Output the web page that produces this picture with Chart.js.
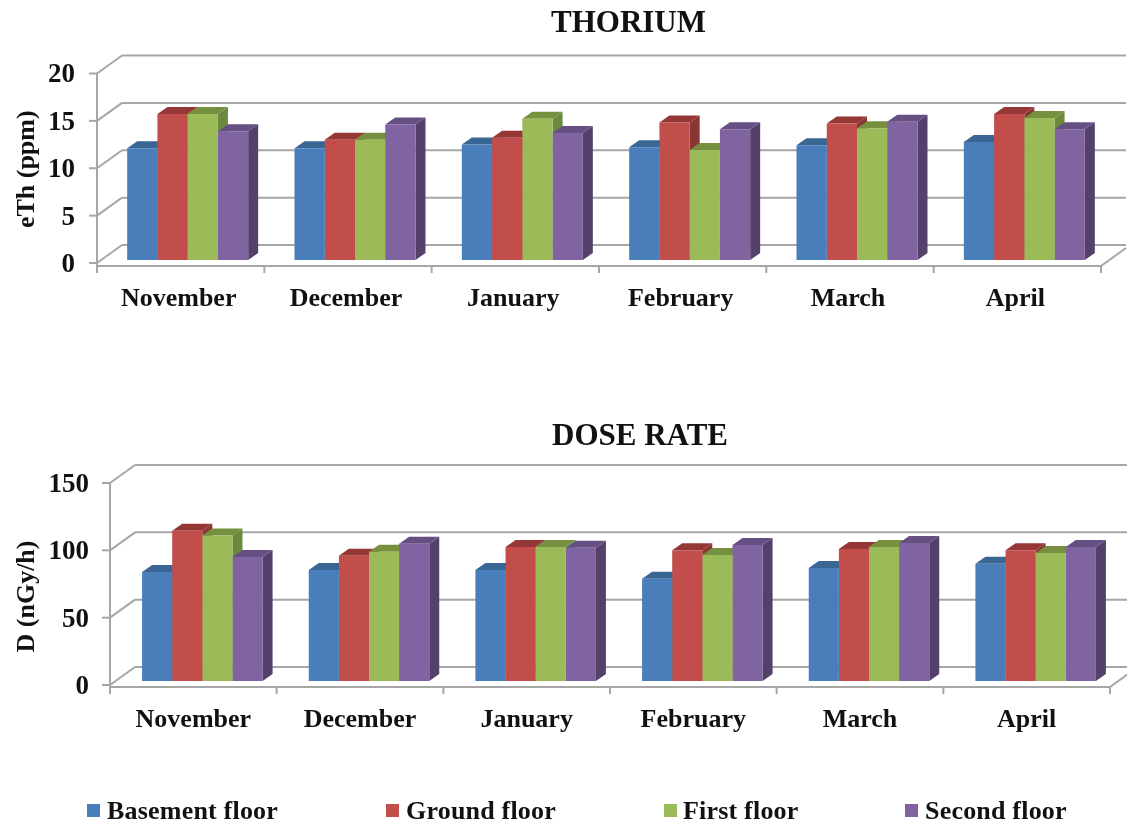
<!DOCTYPE html>
<html><head><meta charset="utf-8">
<script src="https://cdn.jsdelivr.net/npm/chart.js@4"></script>
<style>
html,body{margin:0;padding:0;background:#fff;width:1127px;height:827px;overflow:hidden}
canvas{position:absolute;left:0;filter:blur(.4px)}
.lg{position:absolute;top:797px;font:bold 26px "Liberation Serif";letter-spacing:.2px;color:#111;line-height:28px;white-space:nowrap;filter:blur(.4px)}
.sw{position:absolute;top:804px;width:13px;height:13px}
</style></head><body>
<canvas id="c1" width="1127" height="400" style="top:0"></canvas>
<canvas id="c2" width="1127" height="427" style="top:400px"></canvas>
<script>
const months=["November","December","January","February","March","April"];
const seriesNames=["Basement floor","Ground floor","First floor","Second floor"];
const thBasement=[11.8,11.8,12.2,11.9,12.1,12.45];
const thGround=[15.4,12.7,12.9,14.5,14.4,15.4];
const thFirst=[15.4,12.7,14.9,11.6,13.9,15.0];
const thSecond=[13.6,14.3,13.4,13.8,14.6,13.8];
const drBasement=[81,82.5,82.5,76,84,87];
const drGround=[111.5,93,99.5,97,98,97];
const drFirst=[108,96,99.5,93.5,99.5,95];
const drSecond=[92,102,99,101,102.5,99.5];
const thTicks=[0,5,10,15,20];
const drTicks=[0,50,100,150];
const frontColors=["#4a7ebb","#c24e4c","#9bbb59","#8064a2"];
const topColors=["#3a6694","#953735","#769040","#654f83"];
const sideColors=["#37608c","#8a3634","#6c8a3e","#54406b"];
const GRID="#a6a6a6", FONT="'Liberation Serif'", INK="#111";
const DX=10, DY=7, BACKX=25, BACKY=18;

const walls={id:"walls",
 beforeDatasetsDraw(chart,a,o){
  const ctx=chart.ctx,y=chart.scales.y,area=chart.chartArea;
  const fx=area.left-o.fx, fr=area.right-o.fx, fy=o.fy;
  const ticks=y.ticks.map(t=>y.getPixelForValue(t.value)+fy);
  const floor=area.bottom+6;
  ctx.save();ctx.strokeStyle=GRID;ctx.lineWidth=2;
  const seg=(x1,y1,x2,y2)=>{ctx.beginPath();ctx.moveTo(x1,y1);ctx.lineTo(x2,y2);ctx.stroke();};
  ticks.forEach(p=>{
   seg(fx+BACKX,p-BACKY,fr+BACKX,p-BACKY);
   seg(fx,p,fx+BACKX,p-BACKY);
   seg(fx-8,p,fx,p);
  });
  seg(fx,ticks[ticks.length-1],fx,floor+7);
  seg(fx,floor,fr,floor);
  seg(fr,floor,fr+BACKX,floor-18);
  const n=months.length, step=(fr-fx)/n;
  for(let k=1;k<=n;k++) seg(fx+k*step,floor,fx+k*step,floor+7);
  // depth faces of the bars, left to right; the library then paints the fronts over them
  chart.data.labels.forEach((_,c)=>{
   chart.data.datasets.forEach((_,i)=>{
    const b=chart.getDatasetMeta(i).data[c];
    const l=b.x-b.width/2,r=b.x+b.width/2,t=b.y,bt=b.base;
    ctx.fillStyle=sideColors[i];
    ctx.beginPath();ctx.moveTo(r,t);ctx.lineTo(r+DX,t-DY);ctx.lineTo(r+DX,bt-DY);ctx.lineTo(r,bt);ctx.closePath();ctx.fill();
    ctx.fillStyle=topColors[i];
    ctx.beginPath();ctx.moveTo(l,t);ctx.lineTo(l+DX,t-DY);ctx.lineTo(r+DX,t-DY);ctx.lineTo(r,t);ctx.closePath();ctx.fill();
   });
  });
  ctx.restore();
 }};
const placeTitle={id:"placeTitle",
 afterLayout(chart,a,o){ if(chart.titleBlock) chart.titleBlock.left=2*o.center-chart.titleBlock.right; }};

function make(id,title,yTitle,ticks,max,data,cfg){
 new Chart(document.getElementById(id),{
  type:"bar",
  data:{labels:months,datasets:data.map((d,i)=>({label:seriesNames[i],data:d,backgroundColor:frontColors[i],categoryPercentage:0.723,barPercentage:1,borderWidth:0}))},
  plugins:[walls,placeTitle],
  options:{responsive:false,animation:false,devicePixelRatio:1,
   layout:{padding:{left:0,top:0,bottom:0,right:cfg.padRight}},
   plugins:{
    legend:{display:false},tooltip:{enabled:false},
    title:{display:true,text:title,color:INK,font:{family:FONT,size:31,weight:"bold",lineHeight:1.2},padding:{top:cfg.titleTop,bottom:cfg.titleBottom}},
    walls:{fx:cfg.fx,fy:cfg.fy},placeTitle:{center:cfg.center}
   },
   scales:{
    x:{grid:{display:false},border:{display:false},
       afterFit(s){s.height=cfg.xHeight;},
       ticks:{autoSkip:false,maxRotation:0,minRotation:0,padding:16,labelOffset:cfg.xOff,color:INK,font:{family:FONT,size:26,weight:"bold"}}},
    y:{min:0,max:max,grid:{display:false},border:{display:false},
       afterBuildTicks(s){s.ticks=ticks.map(v=>({value:v}));},
       afterFit(s){
        s.width=cfg.left;
        if(!s._shifted){s._shifted=true;const orig=s.drawTitle;
         s.drawTitle=function(){this.ctx.save();this.ctx.translate(0,cfg.yTitleShift);orig.call(this);this.ctx.restore();};}
       },
       ticks:{padding:cfg.yPad,labelOffset:cfg.fy+2,color:INK,font:{family:FONT,size:27,weight:"bold"}},
       title:{display:true,text:yTitle,color:INK,font:{family:FONT,size:26,weight:"bold",lineHeight:1.2},padding:{top:cfg.yTitlePad,bottom:0}}}
   }}
 });
}
make("c1","THORIUM","eTh (ppm)",thTicks,20,[thBasement,thGround,thFirst,thSecond],
 {padRight:19,titleTop:5.4,titleBottom:27.9,fx:7,fy:3,center:628.5,xHeight:140,xOff:-9,left:104,yPad:21,yTitlePad:12,yTitleShift:4});
make("c2","DOSE RATE","D (nGy/h)",drTicks,150,[drBasement,drGround,drFirst,drSecond],
 {padRight:8,titleTop:18,titleBottom:23.8,fx:9,fy:4,center:640,xHeight:146,xOff:-9,left:119,yPad:22,yTitlePad:12,yTitleShift:16.5});

const swatchX=[87,386,664,905], textX=[107,406,683,925];
seriesNames.forEach((n,i)=>{
 const s=document.createElement("div");s.className="sw";s.style.left=swatchX[i]+"px";s.style.background=frontColors[i];document.body.appendChild(s);
 const t=document.createElement("div");t.className="lg";t.style.left=textX[i]+"px";t.textContent=n;document.body.appendChild(t);
});
</script></body></html>
